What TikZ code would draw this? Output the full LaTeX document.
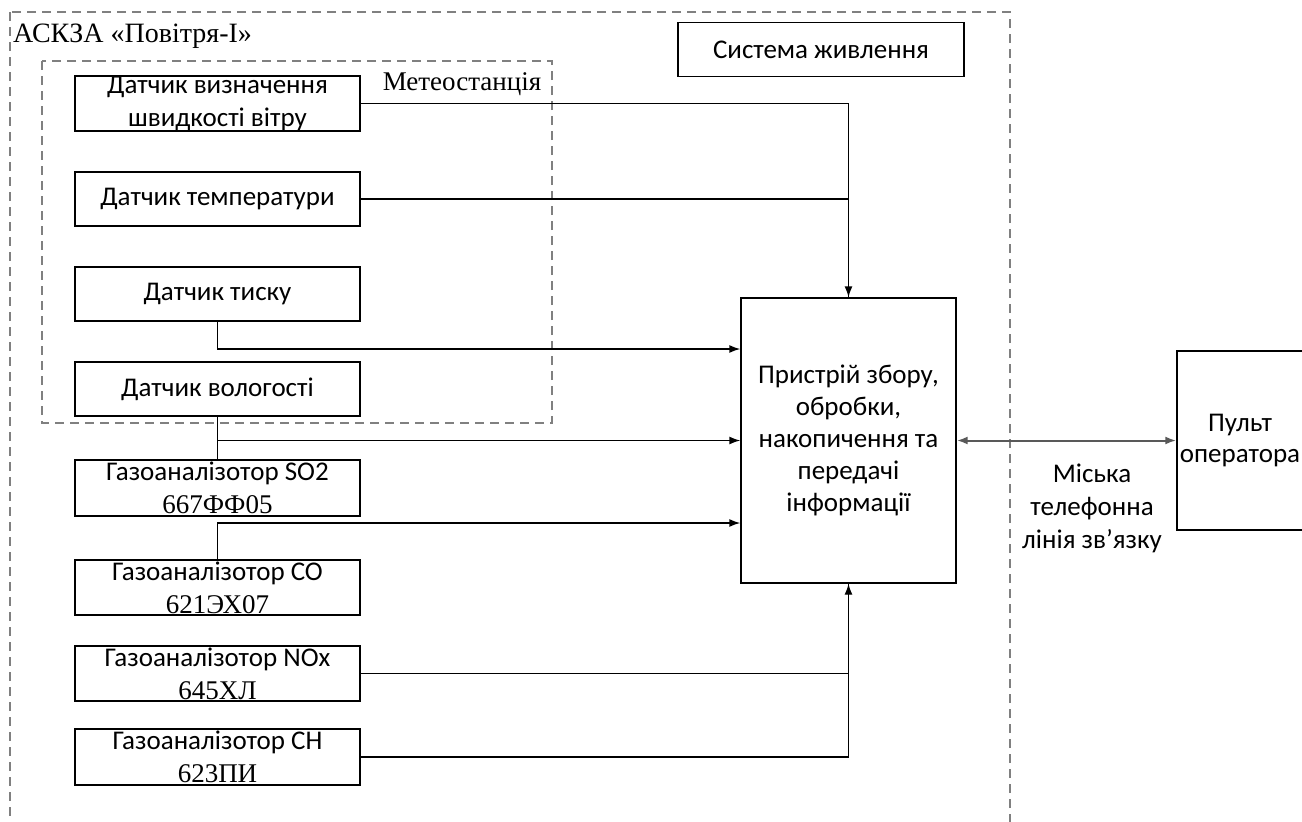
\documentclass[tikz,border=0pt]{standalone}
\usepackage{fontspec}
\setmainfont{Carlito}
\newfontfamily\serif{Liberation Serif}
\usetikzlibrary{arrows.meta}
\tikzset{
  box/.style={draw=black, line width=1.4pt, fill=white, minimum width=285pt, inner sep=0pt, align=center, font=\fontsize{27}{33}\selectfont},
  group/.style={draw=black!50, line width=2pt, dash pattern=on 9pt off 6pt},
  conn/.style={draw=black, line width=1.4pt},
  arr/.style={conn, -{Latex[length=11pt,width=8pt]}},
  link/.style={draw=black!65, line width=2pt, {Latex[length=11pt,width=8pt]}-{Latex[length=11pt,width=8pt]}},
  lbl/.style={inner sep=0pt, font=\serif\fontsize{27}{32}\selectfont}
}
\begin{document}
\begin{tikzpicture}[x=1pt,y=-1pt]
\useasboundingbox (0,0) rectangle (1302,822);
\clip (0,0) rectangle (1302,822);
\fill[white] (0,0) rectangle (1302,822);
% groups
\draw[group] (10,12) rectangle (1010,840);
\draw[group] (42,61) rectangle (552,423);
\node[lbl, anchor=west, font=\serif\fontsize{28}{32}\selectfont] (ask) at (13,36) {АСКЗА «Повітря-І»};
\node[lbl] (meteo) at (462,84) {Метеостанція};
% boxes
\node[box, minimum height=53pt] (wind) at (217.5,103.5) {Датчик визначення\\швидкості вітру};
\node[box, minimum height=54pt] (temp) at (217.5,199) {Датчик температури};
\node[box, minimum height=54pt] (press) at (217.5,294) {Датчик тиску};
\node[box, minimum height=54pt] (hum) at (217.5,389) {Датчик вологості};
\node[box, minimum height=56pt] (so2) at (217.5,488) {Газоаналізотор SO2\\{\serif 667ФФ05}};
\node[box, minimum height=55pt] (co) at (217.5,587.5) {Газоаналізотор CO\\{\serif 621ЭХ07}};
\node[box, minimum height=55pt] (nox) at (217.5,673.5) {Газоаналізотор NOx\\{\serif 645ХЛ}};
\node[box, minimum height=56pt] (ch) at (217.5,757) {Газоаналізотор CH\\{\serif 623ПИ}};
\node[box, minimum width=215pt, minimum height=285pt, font=\fontsize{27}{32}\selectfont] (cpu) at (848.5,440.5) {Пристрій збору,\\обробки,\\накопичення та\\передачі\\інформації};
\node[box, minimum width=286pt, minimum height=54pt] (power) at (821,49.5) {Система живлення};
\node[box, minimum width=126pt, minimum height=179pt, font=\fontsize{27}{31}\selectfont] (pult) at (1240,440.5) {Пульт\\оператора};
% connectors
\draw[arr] (wind.east) -| (cpu.north);
\draw[conn] (temp.east) -| (cpu.north);
\draw[arr] (press.south) |- ([yshift=91.5pt]cpu.west);
\draw[conn] (hum.south) -- (so2.north);
\draw[arr] (hum.south |- cpu.west) -- (cpu.west);
\draw[arr] (co.north) |- ([yshift=-82.5pt]cpu.west);
\draw[arr] (nox.east) -| (cpu.south);
\draw[conn] (ch.east) -| (cpu.south);
\draw[link] (cpu.east) -- (pult.west);
\node[align=center, inner sep=0pt, font=\fontsize{27}{33}\selectfont] (line) at (1092,508) {Міська\\телефонна\\лінія зв’язку};
\end{tikzpicture}
\end{document}
